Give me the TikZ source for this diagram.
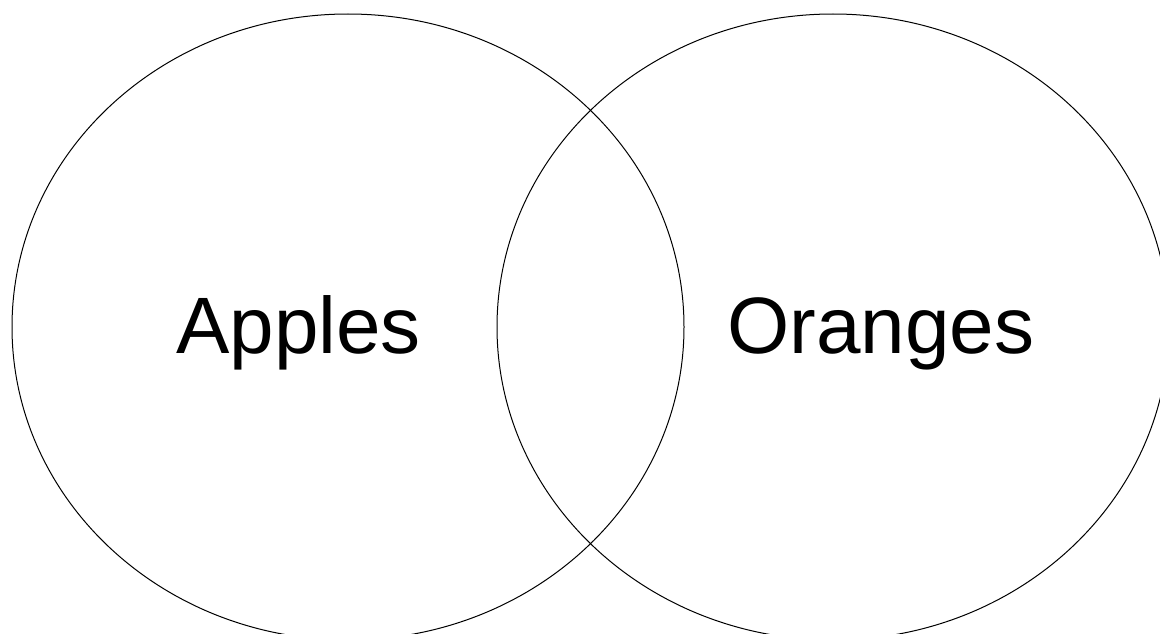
\documentclass[tikz,border=0pt]{standalone}
\usepackage{fontspec}
\setmainfont{Liberation Sans}
\begin{document}
\begin{tikzpicture}[x=1pt,y=-1pt,
  setcircle/.style={draw=black, line width=1pt},
  setlabel/.style={anchor=base, inner sep=0pt, font=\fontsize{80}{96}\selectfont}]
\useasboundingbox (0,0) rectangle (1160,634);
\begin{scope}
\clip (0,0) rectangle (1160,634);
\draw[setcircle] (348,327) ellipse [x radius=336, y radius=313];
\draw[setcircle] (833,327) ellipse [x radius=336, y radius=313];
\end{scope}
\node[setlabel] (apples) at (298.5,353) {Apples};
\node[setlabel] (oranges) at (881,353) {Oranges};
\end{tikzpicture}
\end{document}
